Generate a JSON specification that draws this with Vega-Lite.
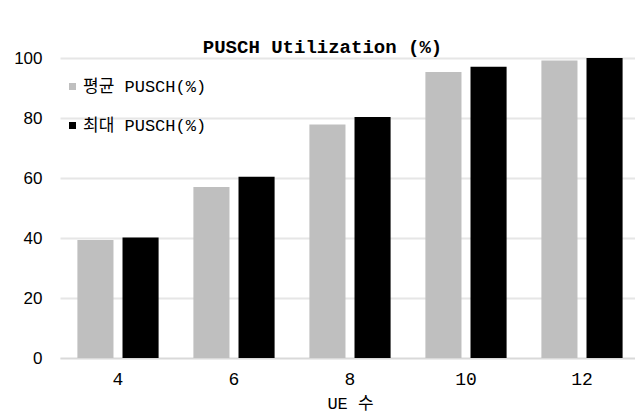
{
  "$schema": "https://vega.github.io/schema/vega-lite/v6.json",
  "autosize": "none",
  "width": 575,
  "height": 300,
  "padding": {"left": 60, "top": 58, "right": 0, "bottom": 59},
  "background": "white",
  "title": {
    "text": "PUSCH Utilization (%)",
    "font": "Liberation Mono",
    "fontSize": 19,
    "fontWeight": "bold",
    "color": "#000000",
    "anchor": "middle",
    "dx": -25,
    "dy": 29,
    "offset": 6,
    "baseline": "alphabetic"
  },
  "data": {
    "values": [
      {"UE": 4, "series": "평균 PUSCH(%)", "value": 39.3},
      {"UE": 4, "series": "최대 PUSCH(%)", "value": 40.2},
      {"UE": 6, "series": "평균 PUSCH(%)", "value": 57.0},
      {"UE": 6, "series": "최대 PUSCH(%)", "value": 60.4},
      {"UE": 8, "series": "평균 PUSCH(%)", "value": 77.8},
      {"UE": 8, "series": "최대 PUSCH(%)", "value": 80.3},
      {"UE": 10, "series": "평균 PUSCH(%)", "value": 95.3},
      {"UE": 10, "series": "최대 PUSCH(%)", "value": 97.1},
      {"UE": 12, "series": "평균 PUSCH(%)", "value": 99.2},
      {"UE": 12, "series": "최대 PUSCH(%)", "value": 100.0}
    ]
  },
  "mark": {"type": "bar"},
  "encoding": {
    "x": {
      "field": "UE",
      "type": "ordinal",
      "sort": [4, 6, 8, 10, 12],
      "scale": {"range": [0, 580], "paddingInner": 0.3, "paddingOuter": 0.15},
      "axis": {
        "title": "UE 수",
        "titleFont": "Liberation Mono, Noto Sans CJK KR",
        "titleFontSize": 17,
        "titleFontWeight": "normal",
        "titleColor": "#000000",
        "titlePadding": 7,
        "labelAngle": 0,
        "labelFont": "Liberation Mono",
        "labelFontSize": 18,
        "labelColor": "#000000",
        "labelPadding": 12,
        "ticks": false,
        "domainColor": "#d9d9d9",
        "domainWidth": 1.5
      }
    },
    "xOffset": {
      "field": "series",
      "type": "nominal",
      "sort": ["평균 PUSCH(%)", "최대 PUSCH(%)"],
      "scale": {"paddingInner": 0.2, "paddingOuter": 0}
    },
    "y": {
      "field": "value",
      "type": "quantitative",
      "scale": {"domain": [0, 100], "nice": false},
      "axis": {
        "title": null,
        "values": [0, 20, 40, 60, 80, 100],
        "labelFont": "Liberation Sans",
        "labelFontSize": 17,
        "labelColor": "#000000",
        "labelPadding": 18,
        "ticks": false,
        "domain": false,
        "gridColor": "#e6e6e6",
        "gridWidth": 2
      }
    },
    "color": {
      "field": "series",
      "type": "nominal",
      "sort": ["평균 PUSCH(%)", "최대 PUSCH(%)"],
      "scale": {"domain": ["평균 PUSCH(%)", "최대 PUSCH(%)"], "range": ["#bfbfbf", "#000000"]},
      "legend": {
        "title": null,
        "orient": "none",
        "legendX": 4,
        "legendY": 20,
        "symbolType": "square",
        "symbolSize": 49,
        "symbolStrokeWidth": 0,
        "labelFont": "Liberation Mono, Noto Sans CJK KR",
        "labelFontSize": 17,
        "labelColor": "#000000",
        "labelOffset": 2,
        "rowPadding": 21
      }
    }
  },
  "config": {
    "view": {"stroke": null}
  }
}
